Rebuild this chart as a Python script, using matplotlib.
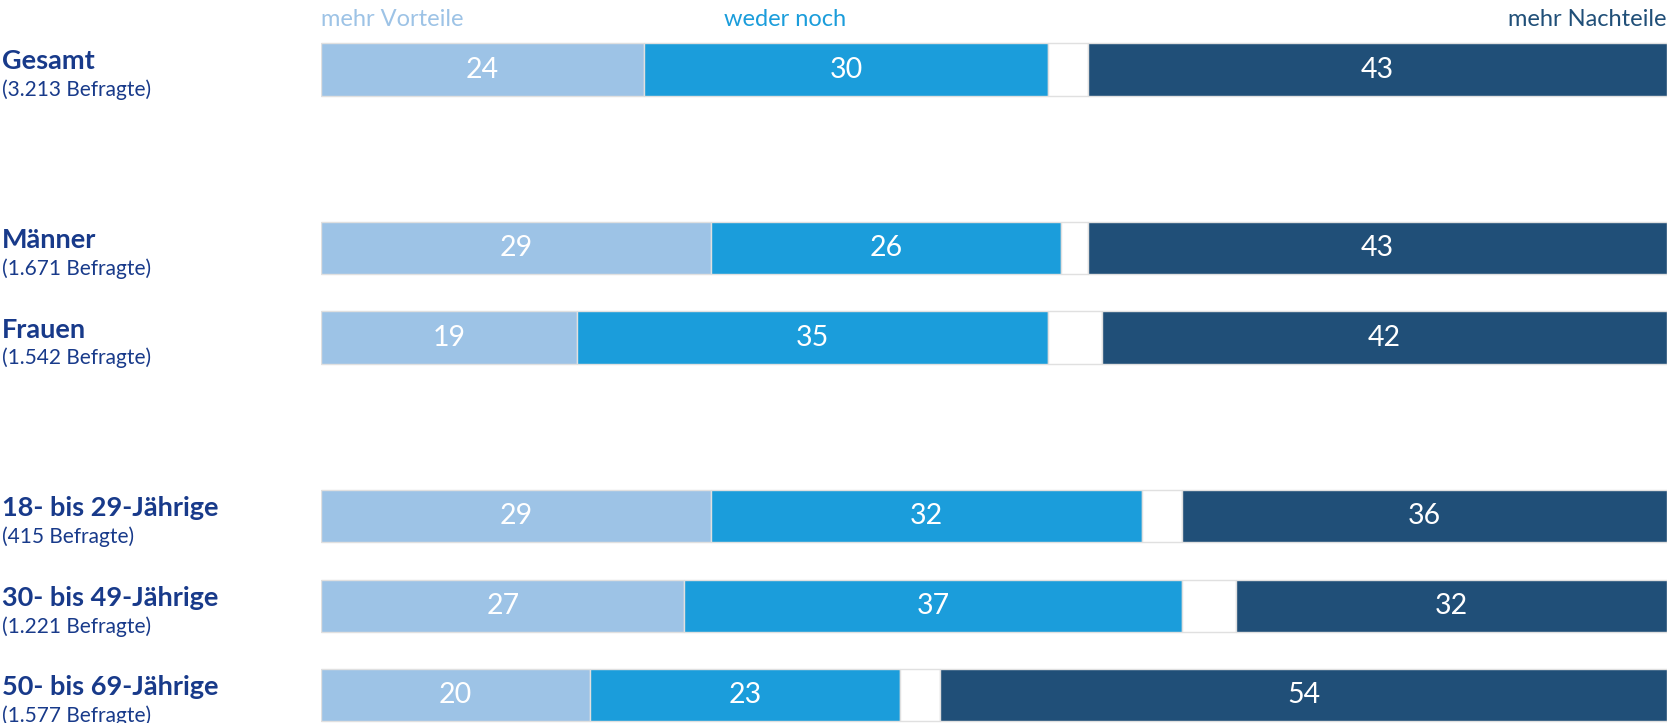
import numpy as np
import matplotlib
matplotlib.use("Agg")
import matplotlib.pyplot as plt
import matplotlib.transforms as mtransforms

plt.rcParams['font.family'] = ['Lato', 'DejaVu Sans']

# data
groups = ["Gesamt", "Männer", "Frauen",
          "18- bis 29-Jährige", "30- bis 49-Jährige", "50- bis 69-Jährige"]
respondents = ["(3.213 Befragte)", "(1.671 Befragte)", "(1.542 Befragte)",
               "(415 Befragte)", "(1.221 Befragte)", "(1.577 Befragte)"]
vorteile = [24, 29, 19, 29, 27, 20]
weder_noch = [30, 26, 35, 32, 37, 23]
nachteile = [43, 43, 42, 36, 32, 54]
series_names = ["mehr Vorteile", "weder noch", "mehr Nachteile"]

# layout: row slots (gaps between blocks)
rows = np.array([0, 2, 3, 5, 6, 7])

c_light = "#9DC3E6"
c_mid = "#1B9DDB"
c_dark = "#204F78"
c_label = "#183A8A"
c_edge = "#E0E0E0"

fig = plt.figure(figsize=(16.76, 7.23), dpi=100)
ax = fig.add_axes([321 / 1676, 0, 1346 / 1676, 1])

v = np.array(vorteile)
w = np.array(weder_noch)
n = np.array(nachteile)
rest = 100 - v - w - n
h = 0.585

ax.barh(rows, v, height=h, color=c_light, edgecolor=c_edge, linewidth=1)
ax.barh(rows, w, left=v, height=h, color=c_mid, edgecolor=c_edge, linewidth=1)
ax.barh(rows, rest, left=v + w, height=h, color="white", edgecolor=c_edge, linewidth=1)
ax.barh(rows, n, left=v + w + rest, height=h, color=c_dark, edgecolor=c_edge, linewidth=1)

for i, y in enumerate(rows):
    ax.text(v[i] / 2, y, str(v[i]), ha="center", va="center", color="white", fontsize=20.5)
    ax.text(v[i] + w[i] / 2, y, str(w[i]), ha="center", va="center", color="white", fontsize=20.5)
    ax.text(100 - n[i] / 2, y, str(n[i]), ha="center", va="center", color="white", fontsize=20.5)

# row labels on the left
trans = mtransforms.blended_transform_factory(fig.transFigure, ax.transData)
for i, y in enumerate(rows):
    ax.text(0.001, y - 0.09, groups[i], transform=trans, ha="left", va="center",
            fontsize=19.5, fontweight="bold", color=c_label)
    ax.text(0.001, y + 0.23, respondents[i], transform=trans, ha="left", va="center",
            fontsize=15, color=c_label)

# header
ax.text(0, -0.56, series_names[0], ha="left", va="center", fontsize=17, color=c_light)
ax.text(34.5, -0.56, series_names[1], ha="center", va="center", fontsize=17, color=c_mid)
ax.text(100, -0.56, series_names[2], ha="right", va="center", fontsize=17, color=c_dark)

ax.set_xlim(0, 100)
ax.set_ylim(7.313, -0.778)
ax.axis("off")

fig.savefig("out.png", dpi=100)
